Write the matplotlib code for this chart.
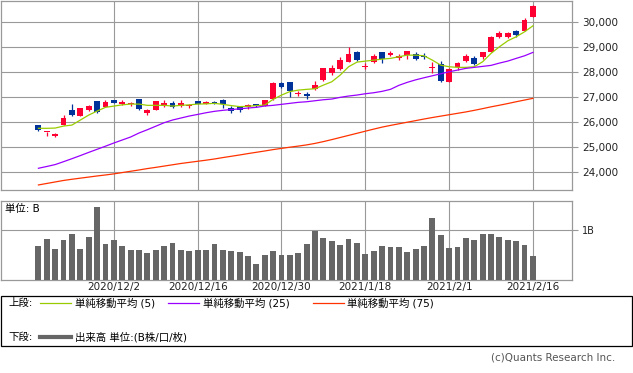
import matplotlib
matplotlib.use('Agg')
import matplotlib.pyplot as plt
from matplotlib.lines import Line2D
from matplotlib.patches import Rectangle
import numpy as np
import pandas as pd

plt.rcParams['font.family'] = ['DejaVu Sans', 'Noto Sans CJK JP']

# trading days (JP market holidays removed)
holidays = ['2020-11-23', '2020-12-31', '2021-01-01', '2021-01-11', '2021-02-11']
dates = pd.bdate_range('2020-11-18', '2021-02-16', freq='C', holidays=holidays)

opens = [25890, 25610, 25450, 25890, 26490, 26260, 26490, 26850, 26610, 26890,
         26730, 26720, 26930, 26380, 26500, 26660, 26770, 26670, 26660, 26850,
         26740, 26830, 26890, 26580, 26620, 26620, 26730, 26660, 26930, 27570,
         27610, 27120, 27140, 27320, 27690, 27980, 28130, 28420, 28810, 28220,
         28400, 28810, 28700, 28590, 28690, 28740, 28650, 28170, 28330, 27630,
         28220, 28450, 28580, 28600, 28820, 29420, 29430, 29660, 29660, 30230]
highs = [25900, 25630, 25560, 26290, 26730, 26580, 26700, 26860, 26890, 26900,
         26890, 26800, 26940, 26530, 26860, 26890, 26850, 26890, 26730, 26860,
         26870, 26850, 26940, 26650, 26640, 26750, 26740, 26900, 27620, 27600,
         27620, 27260, 27200, 27650, 28180, 28280, 28600, 29010, 28860, 28360,
         28730, 28820, 28850, 28730, 28850, 28800, 28770, 28400, 28440, 28180,
         28420, 28730, 28640, 28830, 29440, 29650, 29600, 29700, 30170, 30680]
lows = [25650, 25460, 25420, 25880, 26250, 26250, 26450, 26380, 26600, 26770,
        26690, 26650, 26500, 26300, 26490, 26610, 26560, 26620, 26570, 26730,
        26720, 26740, 26560, 26360, 26400, 26530, 26600, 26640, 26890, 27360,
        27030, 27050, 26950, 27300, 27650, 27900, 28100, 28400, 28440, 28120,
        28390, 28380, 28650, 28500, 28530, 28500, 28520, 27980, 27620, 27620,
        28090, 28400, 28280, 28520, 28800, 29360, 29380, 29420, 29650, 30200]
closes = [25690, 25630, 25540, 26170, 26290, 26570, 26650, 26410, 26810, 26780,
          26810, 26760, 26530, 26490, 26850, 26770, 26630, 26770, 26710, 26740,
          26830, 26770, 26720, 26450, 26500, 26680, 26650, 26890, 27580, 27420,
          27260, 27150, 27050, 27490, 28170, 28170, 28490, 28730, 28490, 28250,
          28650, 28540, 28780, 28650, 28850, 28530, 28610, 28200, 27660, 28130,
          28380, 28650, 28330, 28820, 29420, 29560, 29580, 29490, 30090, 30650]

ma5 = [25760, 25760, 25770, 25850, 25890, 26090, 26290, 26450, 26600, 26650,
       26700, 26730, 26730, 26680, 26680, 26680, 26650, 26680, 26700, 26730,
       26740, 26760, 26720, 26670, 26630, 26640, 26670, 26690, 26920, 27090,
       27230, 27290, 27320, 27345, 27490, 27624, 27890, 28224, 28410, 28450,
       28490, 28530, 28560, 28625, 28690, 28690, 28665, 28490, 28290, 28225,
       28200, 28200, 28225, 28425, 28760, 29025, 29265, 29425, 29625, 29865]
ma25 = [24160, 24232, 24308, 24424, 24544, 24668, 24796, 24920, 25044, 25172,
        25292, 25412, 25572, 25704, 25844, 25984, 26092, 26172, 26252, 26316,
        26384, 26440, 26480, 26510, 26540, 26572, 26600, 26652, 26680, 26720,
        26760, 26800, 26824, 26864, 26904, 26932, 27000, 27052, 27092, 27144,
        27184, 27240, 27320, 27480, 27600, 27700, 27784, 27864, 27944, 28024,
        28092, 28160, 28200, 28240, 28280, 28372, 28452, 28560, 28664, 28800]
ma75 = [23492, 23552, 23612, 23672, 23720, 23764, 23808, 23852, 23892, 23936,
        23988, 24040, 24092, 24148, 24196, 24248, 24300, 24352, 24396, 24440,
        24484, 24532, 24588, 24640, 24692, 24748, 24800, 24852, 24908, 24956,
        25004, 25048, 25096, 25156, 25228, 25308, 25392, 25476, 25560, 25644,
        25728, 25808, 25876, 25940, 26004, 26068, 26132, 26192, 26248, 26304,
        26360, 26416, 26480, 26548, 26620, 26684, 26752, 26824, 26892, 26960]

# volume in billions of shares
volume = [0.68, 0.83, 0.62, 0.80, 0.92, 0.62, 0.86, 1.46, 0.72, 0.80,
          0.68, 0.60, 0.60, 0.54, 0.60, 0.68, 0.74, 0.60, 0.58, 0.60,
          0.60, 0.72, 0.60, 0.58, 0.56, 0.48, 0.32, 0.50, 0.58, 0.50,
          0.50, 0.54, 0.72, 0.98, 0.84, 0.78, 0.70, 0.82, 0.74, 0.52,
          0.58, 0.68, 0.66, 0.66, 0.56, 0.62, 0.68, 1.24, 0.90, 0.64,
          0.66, 0.84, 0.80, 0.92, 0.92, 0.86, 0.80, 0.78, 0.70, 0.48]

tick_dates = ['2020-12-02', '2020-12-16', '2020-12-30', '2021-01-18', '2021-02-01', '2021-02-16']
price_ticks = [24000, 25000, 26000, 27000, 28000, 29000, 30000]

RED, BLUE = '#ff0033', '#003399'
GRID = '#999999'
W, H = 633, 373

def fx(px):
    return px / W

def fy(py):
    return 1 - py / H

fig = plt.figure(figsize=(W / 100, H / 100), dpi=100)
ax = fig.add_axes([fx(0.7), fy(190), fx(571.5) - fx(0.7), fy(0.7) - fy(190)])
ax2 = fig.add_axes([fx(0.7), fy(280), fx(571.5) - fx(0.7), fy(201) - fy(280)])

x = np.arange(len(dates))
o, h, l, c = map(np.array, (opens, highs, lows, closes))
cols = np.where(c >= o, RED, BLUE)
tick_idx = [dates.get_loc(pd.Timestamp(d)) for d in tick_dates]
tick_labels = ['{}/{}/{}'.format(d.year, d.month, d.day) for d in pd.to_datetime(tick_dates)]

# candles
ax.vlines(x, l, h, colors=cols, lw=0.9, zorder=3)
ax.bar(x, np.maximum(np.abs(c - o), 35), bottom=np.minimum(o, c), width=0.7,
       color=cols, lw=0, zorder=4)
ax.plot(x, ma5, color='#99cc00', lw=0.9, zorder=5)
ax.plot(x, ma25, color='#9900ff', lw=0.9, zorder=5)
ax.plot(x, ma75, color='#ff3300', lw=0.9, zorder=5)

ax.set_xlim(-4.5, 63.6)
ax.set_ylim(23290, 30870)
ax.yaxis.tick_right()
ax.set_yticks(price_ticks)
ax.set_yticklabels(['{:,}'.format(v) for v in price_ticks])
ax.set_xticks(tick_idx)
ax.tick_params(axis='x', length=0, labelbottom=False)
ax.tick_params(axis='y', length=4.3, width=0.8, color=GRID, pad=3.5,
               labelsize=7.5, labelcolor='#222222')
ax.grid(True, color=GRID, lw=0.8)
ax.set_axisbelow(True)

# volume
ax2.bar(x, volume, width=0.7, color='#666666', lw=0, zorder=3)
ax2.set_xlim(-4.5, 63.6)
ax2.set_ylim(0, 1.58)
ax2.yaxis.tick_right()
ax2.set_yticks([1])
ax2.set_yticklabels(['1B'])
ax2.set_xticks(tick_idx)
ax2.set_xticklabels(tick_labels)
ax2.tick_params(axis='x', length=0, pad=1.5, labelsize=7.5, labelcolor='#222222')
ax2.tick_params(axis='y', length=4.3, width=0.8, color=GRID, pad=3.5,
                labelsize=7, labelcolor='#222222')
ax2.grid(True, color=GRID, lw=0.8)
ax2.set_axisbelow(True)

for a in (ax, ax2):
    for s in a.spines.values():
        s.set_color(GRID)
        s.set_linewidth(0.9)

fig.text(fx(5), fy(209), '単位: B', fontsize=7.5, va='center', ha='left')

# legend box
fig.add_artist(Rectangle((fx(0.5), fy(346)), fx(632) - fx(0.5), fy(295.7) - fy(346),
                         transform=fig.transFigure, fill=False, ec='black', lw=0.9))
fig.text(fx(8), fy(303), '上段:', fontsize=7.5, va='center')
legend_items = [(40, 75, '#99cc00', '単純移動平均 (5)'),
                (168, 203, '#9900ff', '単純移動平均 (25)'),
                (313, 347, '#ff3300', '単純移動平均 (75)')]
for lx, tx, col, lab in legend_items:
    fig.add_artist(Line2D([fx(lx), fx(lx + 31)], [fy(303), fy(303)],
                          transform=fig.transFigure, color=col, lw=0.9))
    fig.text(fx(tx), fy(303), lab, fontsize=7.5, va='center')
fig.text(fx(8), fy(337), '下段:', fontsize=7.5, va='center')
fig.add_artist(Line2D([fx(40), fx(71)], [fy(337), fy(337)],
                      transform=fig.transFigure, color='#666666', lw=3))
fig.text(fx(75), fy(337), '出来高 単位:(B株/口/枚)', fontsize=7.5, va='center')

fig.text(fx(615), fy(358), '(c)Quants Research Inc.', fontsize=7.5,
         va='center', ha='right', color='#555555')

fig.savefig('out.png', dpi=100)
